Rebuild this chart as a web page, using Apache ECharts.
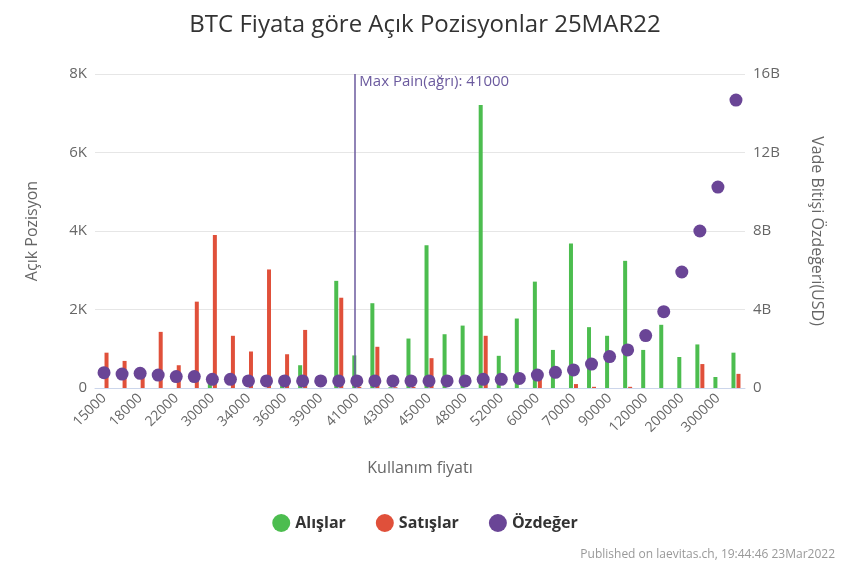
<!DOCTYPE html>
<html><head><meta charset="utf-8">
<script src="https://cdn.jsdelivr.net/npm/echarts@6/dist/echarts.min.js"></script>
<style>html,body{margin:0;padding:0;background:#fff}#c{width:850px;height:567px}</style>
</head><body><div id="c"></div>
<script>
const categories = ['15000','16000','18000','20000','22000','25000','30000','32000','34000','35000','36000','37000','39000','40000','41000','42000','43000','44000','45000','46000','48000','50000','52000','55000','60000','65000','70000','80000','90000','100000','120000','150000','200000','250000','300000','400000'];
const alislar = [0,0,0,0,0,0,0.1,0,0,0,0.05,0.58,0,2.73,0.83,2.16,0.02,1.26,3.64,1.37,1.59,7.21,0.82,1.77,2.71,0.97,3.68,1.55,1.33,3.24,0.97,1.61,0.79,1.11,0.28,0.9].map(v=>v*1000);
const satislar = [0.9,0.69,0.33,1.43,0.58,2.2,3.9,1.33,0.93,3.02,0.86,1.48,0,2.3,0.03,1.05,0.02,0.03,0.76,0,0,1.33,0,0,0.3,0,0.1,0.03,0,0.03,0,0,0,0.61,0,0.36].map(v=>v*1000);
const ozdeger = [0.78,0.71,0.75,0.66,0.58,0.58,0.44,0.44,0.36,0.36,0.36,0.36,0.36,0.36,0.36,0.36,0.36,0.36,0.36,0.36,0.36,0.44,0.44,0.49,0.66,0.8,0.92,1.22,1.6,1.94,2.67,3.89,5.91,8.0,10.24,14.67].map(v=>v*1e9);
const maxPain = '41000';
const chart = echarts.init(document.getElementById('c'));
const f = 'Open Sans';
chart.setOption({
  animation:false,
  textStyle:{fontFamily:f},
  title:{text:'BTC Fiyata göre Açık Pozisyonlar 25MAR22',left:'center',top:8,textStyle:{fontSize:24,fontWeight:'normal',color:'#333',fontFamily:f}},
  grid:{left:95,right:105,top:74,bottom:179},
  legend:{bottom:30,left:'center',itemGap:30,icon:'circle',itemWidth:18,itemHeight:18,textStyle:{fontSize:16,fontWeight:'bold',color:'#333'},data:['Alışlar','Satışlar','Özdeğer']},
  graphic:[{type:'text',right:15,bottom:6,style:{text:'Published on laevitas.ch, 19:44:46 23Mar2022',fill:'#999',fontSize:12,fontFamily:f}}],
  xAxis:{type:'category',data:categories,name:'Kullanım fiyatı',nameLocation:'middle',nameGap:72,nameTextStyle:{fontSize:16,color:'#666'},
    axisLabel:{rotate:45,interval:1,fontSize:14,color:'#666'},axisTick:{show:false},axisLine:{lineStyle:{color:'#ccd6eb'}}},
  yAxis:[
    {type:'value',min:0,max:8000,interval:2000,name:'Açık Pozisyon',nameLocation:'middle',nameGap:55,nameTextStyle:{fontSize:16,color:'#666'},
     axisLabel:{fontSize:15,color:'#666',formatter:v=>v===0?'0':(v/1000)+'K'},splitLine:{lineStyle:{color:'#e6e6e6'}}},
    {type:'value',min:0,max:16e9,interval:4e9,name:'Vade Bitişi Özdeğeri(USD)',nameLocation:'middle',nameGap:64,nameRotate:-90,nameTextStyle:{fontSize:16,color:'#666'},
     axisLabel:{fontSize:15,color:'#666',formatter:v=>v===0?'0':(v/1e9)+'B'},splitLine:{show:false}}
  ],
  series:[
    {name:'Alışlar',type:'bar',data:alislar,barWidth:4,barGap:'25%',itemStyle:{color:'#4cbd4f'},
     markLine:{symbol:'none',silent:true,lineStyle:{color:'#6b5a9e',type:'solid',width:1.5},
       label:{position:'end',formatter:'Max Pain(ağrı): '+maxPain,color:'#6b5a9e',fontSize:15,align:'left',offset:[5,20]},
       data:[{xAxis:maxPain}]}},
    {name:'Satışlar',type:'bar',data:satislar,barWidth:4,itemStyle:{color:'#e0503a'}},
    {name:'Özdeğer',type:'scatter',yAxisIndex:1,data:ozdeger,symbolSize:13,itemStyle:{color:'#6a4596',opacity:1},z:5}
  ]
});
</script></body></html>
